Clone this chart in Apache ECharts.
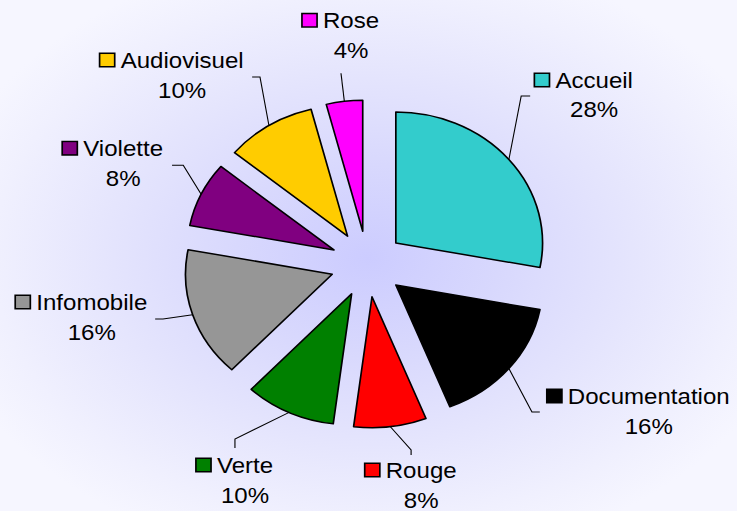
<!DOCTYPE html>
<html><head><meta charset="utf-8">
<script src="https://cdn.jsdelivr.net/npm/echarts@6/dist/echarts.min.js"></script>
<style>
html,body{margin:0;padding:0;width:737px;height:511px;overflow:hidden;}
body{background: radial-gradient(ellipse 440px 310px at 368px 258px, #CCCCFF 0%, #D8D8FD 30%, #E5E5FD 60%, #F0F0FE 85%, #F6F6FF 100%);}
#chart{width:658px;height:511px;transform:scaleX(1.12);transform-origin:0 0;}
</style></head><body><div id="chart"></div>
<script>
const categories = ['Accueil','Documentation','Rouge','Verte','Infomobile','Violette','Audiovisuel','Rose'];
const values = [28,16,8,10,16,8,10,4];
const colors = ['#33CCCC','#000000','#FF0000','#008000','#969696','#800080','#FFCC00','#FF00FF'];

// pie geometry (unscaled px)
const CX = 328, CY = 264, R = 131, OFF = 33;

// leader line shape per label: elbow offset from slice edge, tail segment, side of label
const labelPlacement = [
  {elbow:[11,-63.5], tail:[8,0], side:'right', gap:4.5},
  {elbow:[20.6,43.5], tail:[7,0], side:'right', gap:7},
  {elbow:[18.5,23.3], tail:[0,5], side:'bottom', gap:0},
  {elbow:[-48.4,26.6], tail:[0,9], side:'bottom', gap:2},
  {elbow:[-26.5,4.3], tail:[-7,0], side:'left', gap:7},
  {elbow:[-16,-29], tail:[-10,0], side:'left', gap:8},
  {elbow:[-8,-48.5], tail:[-7,0], side:'left', gap:7.5},
  {elbow:[-3,-28], tail:[0,0], side:'top', gap:8}
];

const FONT = '"Liberation Sans", Arial, sans-serif';
const FS = 21.5;

const pieData = categories.map((name, i) => ({
  name: name, value: values[i], selected: true,
  itemStyle: {color: colors[i]}
}));
const labelData = categories.map((name, i) => ({
  name: name, value: values[i],
  label: {
    rich: {
      sq: {width:12, height:12, borderColor:'#000', borderWidth:1.5, backgroundColor: colors[i], align:'center', lineHeight:30}
    }
  }
}));

const common = {
  type: 'pie',
  center: [CX, CY],
  radius: R,
  startAngle: 90,
  clockwise: true,
  avoidLabelOverlap: false,
  silent: true,
  emphasis: {disabled: true}
};

const chart = echarts.init(document.getElementById('chart'), null, {renderer:'svg'});
chart.setOption({
  animation: false,
  backgroundColor: 'transparent',
  series: [
    Object.assign({}, common, {
      selectedMode: 'multiple',
      selectedOffset: OFF,
      itemStyle: {borderColor:'#000', borderWidth:1.5},
      label: {show: false},
      labelLine: {show: false},
      data: pieData
    }),
    Object.assign({}, common, {
      itemStyle: {color: 'rgba(0,0,0,0)', borderWidth: 0},
      label: {
        show: true,
        position: 'outside',
        color: '#000',
        fontFamily: FONT,
        formatter: p => '{sq|}{gap|}{nm|' + p.name + '}\n{sqh|}{gap|}{pc|' + Math.round(p.percent) + '%}',
        rich: {
          sqh: {width:12, height:12, align:'center', lineHeight:30},
          gap: {width:6, align:'center', lineHeight:30},
          nm: {fontSize:FS, fontFamily: FONT, color:'#000', align:'center', lineHeight:30},
          pc: {fontSize:FS, fontFamily: FONT, color:'#000', align:'center', lineHeight:30}
        }
      },
      labelLine: {show: true, length: 20, length2: 8, lineStyle: {color:'#000', width:1}},
      labelLayout: function (params) {
        const p = labelPlacement[params.dataIndex];
        const pts = params.labelLinePoints;
        if (!pts) return {};
        const k = (R + OFF) / R;
        const s = [CX + (pts[0][0] - CX) * k, CY + (pts[0][1] - CY) * k];
        const e = [s[0] + p.elbow[0], s[1] + p.elbow[1]];
        const t = [e[0] + p.tail[0], e[1] + p.tail[1]];
        let x = t[0], y = t[1], align = 'left', va = 'middle';
        if (p.side === 'right') { x += p.gap; y -= 1; align = 'left'; }
        else if (p.side === 'left') { x -= p.gap; y -= 2; align = 'right'; }
        else if (p.side === 'bottom') { y += p.gap; align = 'center'; va = 'top'; }
        else { y -= p.gap; align = 'center'; va = 'bottom'; }
        return {x: x, y: y, align: align, verticalAlign: va, labelLinePoints: [s, e, t]};
      },
      data: labelData
    })
  ]
});
</script></body></html>
